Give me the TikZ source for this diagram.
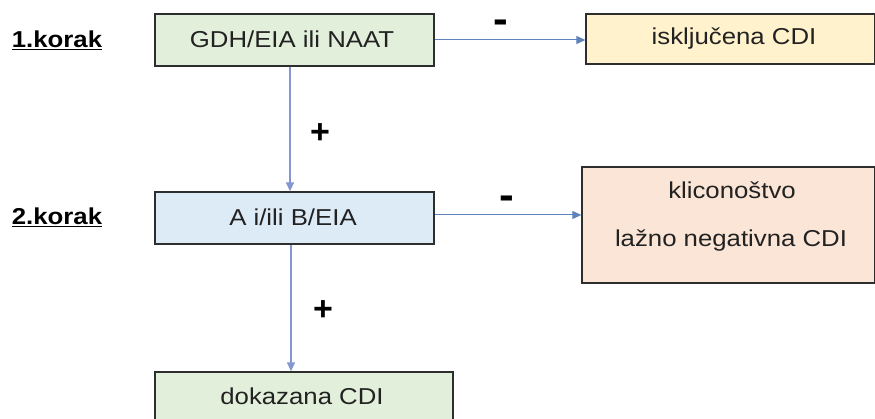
\documentclass[tikz,border=0pt]{standalone}
\usepackage{fontspec}
\setmainfont{Liberation Sans}
\usetikzlibrary{arrows.meta}
\definecolor{greenf}{HTML}{E2EFDA}
\definecolor{yellowf}{HTML}{FFF2CC}
\definecolor{bluef}{HTML}{DDEBF7}
\definecolor{peachf}{HTML}{FBE5D6}
\definecolor{edgec}{HTML}{2E2E2E}
\definecolor{arrc}{HTML}{5F82BE}
\definecolor{arrv}{HTML}{8497D0}
\definecolor{txtc}{HTML}{222222}
\newcommand{\tx}[1]{\scalebox{1.12}[1]{\fontsize{23}{27}\selectfont #1}}
\newcommand{\txb}[1]{\scalebox{1.12}[1]{\fontsize{23}{27}\selectfont\bfseries #1}}
\newcommand{\sg}[1]{{\fontsize{34}{36}\selectfont\bfseries #1}}
\newcommand{\sgm}[1]{\scalebox{1.3}[1.25]{\fontsize{34}{36}\selectfont\bfseries #1}}
\tikzset{
  box/.style={draw=edgec, line width=1.3pt, inner sep=0pt, text=txtc},
  conn/.style={draw=arrc, line width=1pt, -{Triangle[length=9pt,width=8pt]}},
  connv/.style={draw=arrv, line width=1.3pt, -{Triangle[length=9pt,width=8pt]}},
  lbl/.style={inner sep=0pt, text=black},
  sign/.style={inner sep=0pt, text=black}
}
\begin{document}
\begin{tikzpicture}[x=1pt,y=-1pt]
\useasboundingbox (0,0) rectangle (875,419);
\fill[white] (0,0) rectangle (875,419);
% step labels
\node[lbl] (k1) at (57,40) {\txb{\underline{1.korak}}};
\node[lbl] (k2) at (57,217) {\txb{\underline{2.korak}}};
% boxes
\node[box, fill=greenf, minimum width=279pt, minimum height=52pt] (b1) at (294.5,40) {};
\node[text=txtc, inner sep=0pt] (t1) at (292,39) {\tx{GDH/EIA ili NAAT}};
\node[box, fill=yellowf, minimum width=289pt, minimum height=50pt] (b2) at (730.5,39) {};
\node[text=txtc, inner sep=0pt] (t2) at (734,39) {\tx{isključena CDI}};
\node[box, fill=bluef, minimum width=279pt, minimum height=52pt] (b3) at (294.5,218) {};
\node[text=txtc, inner sep=0pt] (t3) at (293,217) {\tx{A i/ili B/EIA}};
\node[box, fill=peachf, minimum width=293pt, minimum height=116pt] (b4) at (728.5,225) {};
\node[text=txtc, inner sep=0pt] (t4a) at (732,190) {\tx{kliconoštvo}};
\node[text=txtc, inner sep=0pt] (t4b) at (731,241) {\tx{lažno negativna CDI}};
\node[box, fill=greenf, minimum width=298pt, minimum height=52pt] (b5) at (304,398) {};
\node[text=txtc, inner sep=0pt] (t5) at (302,396) {\tx{dokazana CDI}};
% connectors
\draw[conn] (b1.east) -- (b1.east -| b2.west);
\draw[conn] ([yshift=3pt]b3.east) -- ([yshift=3pt]b3.east -| b4.west);
\draw[connv] ([xshift=-4.5pt]b1.south) -- ([xshift=-4.5pt]b3.north);
\draw[connv] ([xshift=-3.5pt]b3.south) -- ([xshift=-3.5pt]b3.south |- b5.north);
% signs
\node[sign] (m1) at (501,27) {\sgm{-}};
\node[sign] (m2) at (507,203) {\sgm{-}};
\node[sign] (p1) at (320,134) {\sg{+}};
\node[sign] (p2) at (323,311) {\sg{+}};
\end{tikzpicture}
\end{document}
